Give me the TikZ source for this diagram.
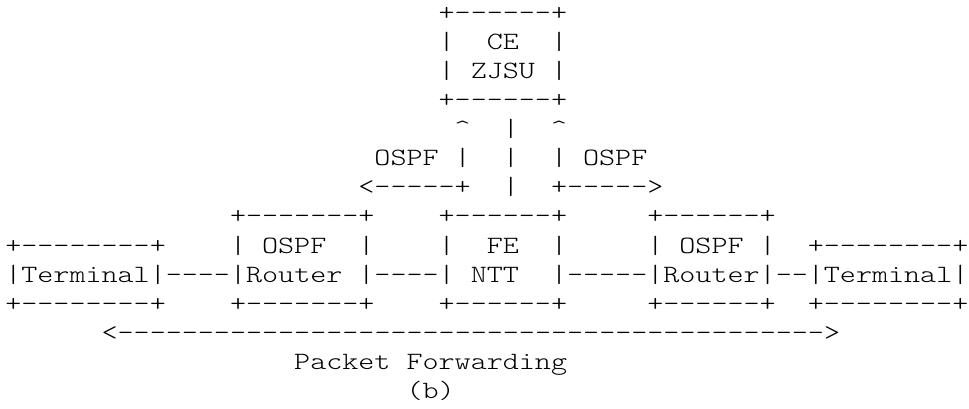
\documentclass[tikz,border=0pt]{standalone}
\usepackage{graphicx}
\usepackage{fontspec}
\newfontfamily\asciifont{lmmonolt10-regular.otf}
\newcommand\sx{1.229}
\newcommand\dsh[1]{\foreach\k in {1,...,#1}{-\kern0pt}}
\newcommand\seg[3]{\node[asc] (s#2x#1) at (#1,#2) {\scalebox{\sx}[1]{#3}};}
\tikzset{asc/.style={anchor=base west, inner sep=0pt, outer sep=0pt,
  font=\asciifont\fontsize{18.66pt}{20pt}\selectfont}}
\begin{document}
\begin{tikzpicture}[x=12.0375pt, y=-21.75pt]
\useasboundingbox (0pt,0pt) rectangle (726.75pt,-306.75pt);
\begin{scope}[shift={(3.975pt,-15.75pt)}]
% CE box
\seg{27}{0}{+\dsh{6}+}
\seg{27}{1}{|}\seg{30}{1}{CE}\seg{34}{1}{|}
\seg{27}{2}{|}\seg{29}{2}{ZJSU}\seg{34}{2}{|}
\seg{27}{3}{+\dsh{6}+}
% OSPF links to CE
\seg{28}{4}{\textasciicircum}\seg{31}{4}{|}\seg{34}{4}{\textasciicircum}
\seg{23}{5}{OSPF}\seg{28}{5}{|}\seg{31}{5}{|}\seg{34}{5}{|}\seg{36}{5}{OSPF}
\seg{22}{6}{<\dsh{5}+}\seg{31}{6}{|}\seg{34}{6}{+\dsh{5}>}
% boxes
\seg{14}{7}{+\dsh{7}+}\seg{27}{7}{+\dsh{6}+}\seg{40}{7}{+\dsh{6}+}
\seg{0}{8}{+\dsh{8}+}\seg{14}{8}{|}\seg{16}{8}{OSPF}\seg{22}{8}{|}
\seg{27}{8}{|}\seg{30}{8}{FE}\seg{34}{8}{|}
\seg{40}{8}{|}\seg{42}{8}{OSPF}\seg{47}{8}{|}\seg{50}{8}{+\dsh{8}+}
\seg{0}{9}{|Terminal|\dsh{4}|Router}\seg{22}{9}{|\dsh{4}|}\seg{29}{9}{NTT}
\seg{34}{9}{|\dsh{5}|Router|\dsh{2}|Terminal|}
\seg{0}{10}{+\dsh{8}+}\seg{14}{10}{+\dsh{7}+}\seg{27}{10}{+\dsh{6}+}
\seg{40}{10}{+\dsh{6}+}\seg{50}{10}{+\dsh{8}+}
% packet forwarding
\seg{6}{11}{<\dsh{44}>}
\seg{18}{12}{Packet}\seg{25}{12}{Forwarding}
\seg{25}{13}{(b)}
\end{scope}
\end{tikzpicture}
\end{document}
